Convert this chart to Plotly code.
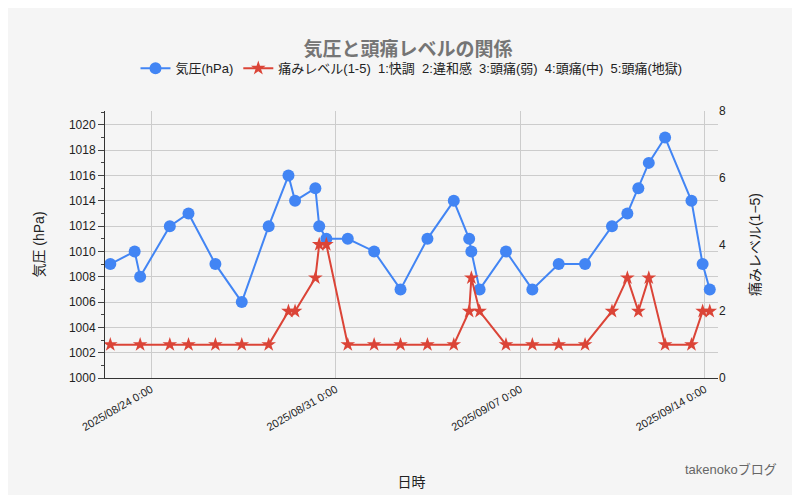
import plotly.graph_objects as go

# Data
times = [
    "2025-08-22 10:50", "2025-08-23 09:00", "2025-08-23 14:00", "2025-08-24 17:00",
    "2025-08-25 10:00", "2025-08-26 10:30", "2025-08-27 10:30", "2025-08-28 11:00",
    "2025-08-29 05:00", "2025-08-29 11:00", "2025-08-30 05:30", "2025-08-30 09:00",
    "2025-08-30 15:30", "2025-08-31 11:00", "2025-09-01 11:00", "2025-09-02 11:00",
    "2025-09-03 11:30", "2025-09-04 11:30", "2025-09-05 01:30", "2025-09-05 03:30",
    "2025-09-05 11:00", "2025-09-06 11:00", "2025-09-07 11:00", "2025-09-08 11:00",
    "2025-09-09 11:00", "2025-09-10 11:30", "2025-09-11 01:30", "2025-09-11 11:30",
    "2025-09-11 21:00", "2025-09-12 11:50", "2025-09-13 11:50", "2025-09-13 22:00",
    "2025-09-14 04:30",
]
pressure = [1009, 1010, 1008, 1012, 1013, 1009, 1006, 1012, 1016, 1014, 1015, 1012,
            1011, 1011, 1010, 1007, 1011, 1014, 1011, 1010, 1007, 1010, 1007, 1009,
            1009, 1012, 1013, 1015, 1017, 1019, 1014, 1009, 1007]
pain_times = [times[0], times[2]] + times[3:]
pain = [1, 1, 1, 1, 1, 1, 1, 2, 2, 3, 4, 4, 1, 1, 1, 1, 1, 2, 3, 2, 1, 1, 1,
        1, 2, 3, 2, 3, 1, 1, 2, 2]
tick_vals = ["2025-08-24", "2025-08-31", "2025-09-07", "2025-09-14"]
tick_text = ["2025/08/24 0:00", "2025/08/31 0:00", "2025/09/07 0:00", "2025/09/14 0:00"]

blue = "#4285f4"
red = "#db4437"

fig = go.Figure()
fig.add_trace(go.Scatter(
    x=times, y=pressure, name="気圧(hPa)", mode="lines+markers",
    line=dict(color=blue, width=2), marker=dict(size=12, color=blue),
))
fig.add_trace(go.Scatter(
    x=pain_times, y=pain, name="痛みレベル(1-5)  1:快調  2:違和感  3:頭痛(弱)  4:頭痛(中)  5:頭痛(地獄)",
    mode="lines+markers", yaxis="y2",
    line=dict(color=red, width=2), marker=dict(symbol="star", size=11, color=red),
))

fig.update_layout(
    width=800, height=495,
    font=dict(family="Liberation Sans, Noto Sans CJK JP, sans-serif", size=12, color="#222"),
    title=dict(text="<b>気圧と頭痛レベルの関係</b>", x=0.5, xanchor="center", y=0.93,
               font=dict(size=19, color="#757575")),
    paper_bgcolor="#f5f5f5", plot_bgcolor="#f5f5f5",
    margin=dict(l=97, r=90, t=103, b=125, autoexpand=False),
    legend=dict(orientation="h", x=0.5, xanchor="center", y=1.16, yanchor="middle",
                font=dict(size=13), bgcolor="rgba(0,0,0,0)"),
    showlegend=True,
    xaxis=dict(
        title=dict(text="日時", standoff=45), type="date",
        range=["2025-08-22 06:00", "2025-09-14 12:00"],
        tickvals=tick_vals, ticktext=tick_text, tickangle=-30,
        showgrid=True, gridcolor="#cccccc", showline=True, linecolor="#333",
        tickfont=dict(size=11),
    ),
    yaxis=dict(
        title=dict(text="気圧 (hPa)", standoff=20), range=[1000, 1021.1], dtick=2, tick0=1000,
        showgrid=True, gridcolor="#cccccc", zeroline=False,
        showline=True, linecolor="#333", ticks="outside", ticklen=6,
        minor=dict(dtick=1, ticks="outside", ticklen=3, showgrid=False),
    ),
    yaxis2=dict(
        title=dict(text="痛みレベル(1−5)", standoff=25), overlaying="y", side="right",
        range=[0, 8], dtick=2, showgrid=False, zeroline=False,
    ),
)

fig.add_annotation(text="takenokoブログ", xref="paper", yref="paper",
                   x=1.1, y=-0.38, showarrow=False, xanchor="right",
                   font=dict(size=13, color="#666"))

fig.write_html("out.html")
